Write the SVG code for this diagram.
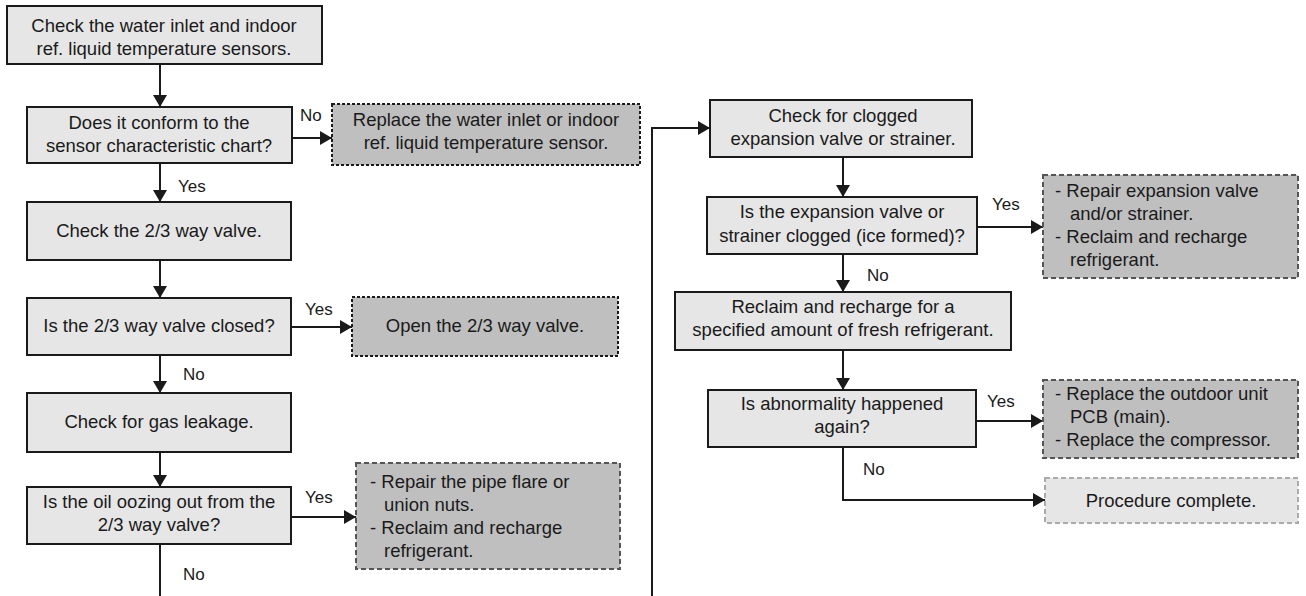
<svg xmlns="http://www.w3.org/2000/svg" width="1306" height="596" viewBox="0 0 1306 596">
<style>
.box{fill:#e6e6e6;stroke:#1a1a1a;stroke-width:2}
.act{fill:#bfbfbf;stroke:#1a1a1a;stroke-width:2;stroke-dasharray:3 2}
.act2{fill:#bfbfbf;stroke:#555;stroke-width:2;stroke-dasharray:5 3}
.end{fill:#e6e6e6;stroke:#aaa;stroke-width:2;stroke-dasharray:5 3}
text{font-family:"Liberation Sans",Arial,sans-serif;font-size:18.5px;fill:#1a1a1a}
.c{text-anchor:middle}
.lbl{font-size:17px}
.ln{fill:none;stroke:#1a1a1a;stroke-width:2}
</style>
<defs>
<marker id="ah" viewBox="0 0 12 14" refX="12" refY="7" markerWidth="12" markerHeight="14" markerUnits="userSpaceOnUse" orient="auto">
<path d="M0,0 L12,7 L0,14 z" fill="#1a1a1a"/>
</marker>
</defs>
<g id="connectors">
<path class="ln" d="M160,64 V107" marker-end="url(#ah)"/>
<path class="ln" d="M292,138 H332" marker-end="url(#ah)"/>
<path class="ln" d="M160,163 V202" marker-end="url(#ah)"/>
<path class="ln" d="M160,260 V298" marker-end="url(#ah)"/>
<path class="ln" d="M291,327 H352" marker-end="url(#ah)"/>
<path class="ln" d="M160,355 V393" marker-end="url(#ah)"/>
<path class="ln" d="M160,452 V487" marker-end="url(#ah)"/>
<path class="ln" d="M291,517 H356" marker-end="url(#ah)"/>
<path class="ln" d="M160,544 V596"/>
<path class="ln" d="M652,596 V128 H710" marker-end="url(#ah)"/>
<path class="ln" d="M843,157 V197" marker-end="url(#ah)"/>
<path class="ln" d="M977,227 H1043" marker-end="url(#ah)"/>
<path class="ln" d="M843,254 V292" marker-end="url(#ah)"/>
<path class="ln" d="M843,350 V390" marker-end="url(#ah)"/>
<path class="ln" d="M976,421 H1043" marker-end="url(#ah)"/>
<path class="ln" d="M843,447 V500 H1045" marker-end="url(#ah)"/>
<text class="lbl" x="300" y="121">No</text>
<text class="lbl" x="178" y="192">Yes</text>
<text class="lbl" x="305" y="315">Yes</text>
<text class="lbl" x="183" y="380">No</text>
<text class="lbl" x="305" y="503">Yes</text>
<text class="lbl" x="183" y="580">No</text>
<text class="lbl" x="992" y="210">Yes</text>
<text class="lbl" x="867" y="281">No</text>
<text class="lbl" x="987" y="407">Yes</text>
<text class="lbl" x="863" y="475">No</text>
</g>
<g id="n1"><rect class="box" x="7" y="6" width="315" height="58"/>
<text class="c" x="164" y="32">Check the water inlet and indoor</text>
<text class="c" x="164" y="55">ref. liquid temperature sensors.</text></g>
<g id="n2"><rect class="box" x="27" y="107" width="265" height="56"/>
<text class="c" x="159" y="129">Does it conform to the</text>
<text class="c" x="159" y="152">sensor characteristic chart?</text></g>
<g id="n3"><rect class="act" x="332" y="104" width="308" height="61"/>
<text class="c" x="486" y="126">Replace the water inlet or indoor</text>
<text class="c" x="486" y="149">ref. liquid temperature sensor.</text></g>
<g id="n4"><rect class="box" x="27" y="202" width="264" height="58"/>
<text class="c" x="159" y="237">Check the 2/3 way valve.</text></g>
<g id="n5"><rect class="box" x="27" y="298" width="264" height="57"/>
<text class="c" x="159" y="332">Is the 2/3 way valve closed?</text></g>
<g id="n6"><rect class="act" x="352" y="297" width="266" height="59"/>
<text class="c" x="485" y="332">Open the 2/3 way valve.</text></g>
<g id="n7"><rect class="box" x="27" y="393" width="264" height="59"/>
<text class="c" x="159" y="428">Check for gas leakage.</text></g>
<g id="n8"><rect class="box" x="27" y="487" width="264" height="57"/>
<text class="c" x="159" y="508">Is the oil oozing out from the</text>
<text class="c" x="159" y="531">2/3 way valve?</text></g>
<g id="n9"><rect class="act2" x="356" y="463" width="264" height="106"/>
<text x="370" y="488">- Repair the pipe flare or</text>
<text x="384" y="511">union nuts.</text>
<text x="370" y="534">- Reclaim and recharge</text>
<text x="384" y="557">refrigerant.</text></g>
<g id="n10"><rect class="box" x="710" y="100" width="262" height="57"/>
<text class="c" x="843" y="122">Check for clogged</text>
<text class="c" x="843" y="145">expansion valve or strainer.</text></g>
<g id="n11"><rect class="box" x="707" y="197" width="270" height="57"/>
<text class="c" x="842" y="218">Is the expansion valve or</text>
<text class="c" x="842" y="242">strainer clogged (ice formed)?</text></g>
<g id="n12"><rect class="act2" x="1043" y="175" width="255" height="103"/>
<text x="1055" y="197">- Repair expansion valve</text>
<text x="1070" y="220">and/or strainer.</text>
<text x="1055" y="243">- Reclaim and recharge</text>
<text x="1070" y="266">refrigerant.</text></g>
<g id="n13"><rect class="box" x="675" y="292" width="336" height="58"/>
<text class="c" x="843" y="313">Reclaim and recharge for a</text>
<text class="c" x="843" y="336">specified amount of fresh refrigerant.</text></g>
<g id="n14"><rect class="box" x="708" y="390" width="268" height="57"/>
<text class="c" x="842" y="410">Is abnormality happened</text>
<text class="c" x="842" y="433">again?</text></g>
<g id="n15"><rect class="act2" x="1043" y="380" width="255" height="78"/>
<text x="1055" y="400">- Replace the outdoor unit</text>
<text x="1070" y="423">PCB (main).</text>
<text x="1055" y="446">- Replace the compressor.</text></g>
<g id="n16"><rect class="end" x="1045" y="478" width="253" height="45"/>
<text class="c" x="1171" y="507">Procedure complete.</text></g>
</svg>
